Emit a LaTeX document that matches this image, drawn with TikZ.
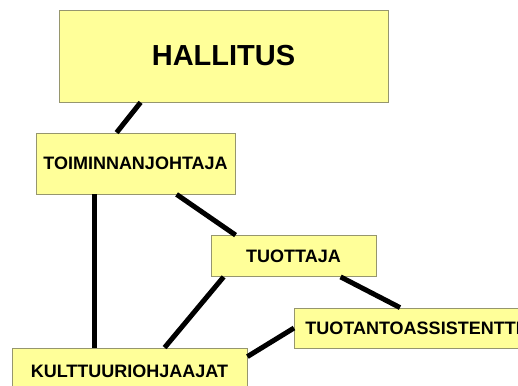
\documentclass[tikz,border=0pt]{standalone}
\usepackage{fontspec}
\setmainfont{Liberation Sans}
\definecolor{boxfill}{RGB}{255,255,153}
\definecolor{boxline}{RGB}{150,150,110}
\begin{document}
\begin{tikzpicture}[x=1pt, y=-1pt,
  every node/.style = {shape=rectangle, fill=boxfill,
    draw=boxline, line width=0.8pt, inner sep=0pt,
    align=center, font=\bfseries\fontsize{18}{20}\selectfont},
  link/.style = {draw, line width=5pt, line cap=butt}]
  \useasboundingbox (0,0) rectangle (518,385);
  % boxes
  \node (hallitus) [minimum width=329pt, minimum height=92pt,
    font=\bfseries\fontsize{29}{32}\selectfont] at (223.5,56) {HALLITUS};
  \node (johtaja) [minimum width=199pt, minimum height=61pt] at (135.5,163.5) {TOIMINNANJOHTAJA};
  \node (tuottaja) [minimum width=165pt, minimum height=41pt] at (293.5,256) {TUOTTAJA};
  \node (assistentti) [anchor=west, inner xsep=11pt, minimum height=40pt] at (294,328) {TUOTANTOASSISTENTTI};
  \node (ohjaajat) [minimum width=235pt, minimum height=46pt] at (129.5,371) {KULTTUURIOHJAAJAT};
  % lines
  \draw[link] ([xshift=82pt]hallitus.south west) -- ([xshift=81pt]johtaja.north west);
  \draw[link] ([xshift=59pt]johtaja.south west) -- ([xshift=83pt]ohjaajat.north west);
  \draw[link] ([xshift=141pt]johtaja.south west) -- ([xshift=25pt]tuottaja.north west);
  \draw[link] ([xshift=13pt]tuottaja.south west) -- ([xshift=153pt]ohjaajat.north west);
  \draw[link] ([xshift=130pt]tuottaja.south west) -- ([xshift=106pt]assistentti.north west);
  \draw[link] (assistentti.west) -- ([yshift=-9pt]ohjaajat.north east);
\end{tikzpicture}
\end{document}
